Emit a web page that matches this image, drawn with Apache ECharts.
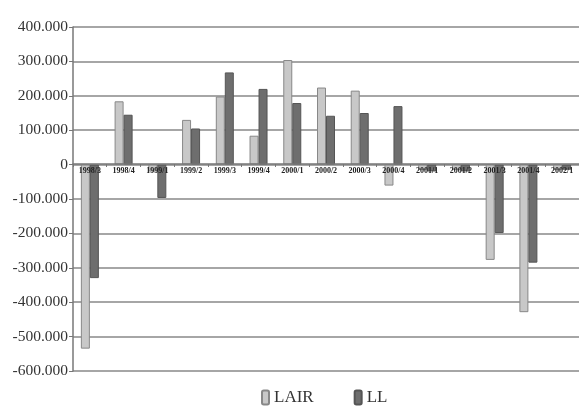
<!DOCTYPE html>
<html><head><meta charset="utf-8">
<script src="https://cdn.jsdelivr.net/npm/echarts@6/dist/echarts.min.js"></script>
<style>html,body{margin:0;padding:0;background:#fff}#c{width:579px;height:413px}</style>
</head><body><div id="c"></div>
<script>
const categories = ['1998/3','1998/4','1999/1','1999/2','1999/3','1999/4','2000/1','2000/2','2000/3','2000/4','2001/1','2001/2','2001/3','2001/4','2002/1'];
const lair = [-535000,184000,-20000,130000,198000,84000,304000,224000,215000,-61000,-15000,-15000,-277000,-429000,-15000];
const ll = [-330000,145000,-97000,105000,268000,220000,179000,142000,150000,170000,-20000,-20000,-199000,-285000,-15000];

function fmt(v){
  const s = Math.abs(v).toString().replace(/\B(?=(\d{3})+(?!\d))/g,'.');
  return (v<0?'-':'')+s;
}
const chart = echarts.init(document.getElementById('c'));
chart.setOption({
  animation:false,
  backgroundColor:'#fff',
  grid:{left:73,top:27,right:-14,bottom:42,containLabel:false},
  legend:{
    data:['LAIR','LL'], bottom:2, left:256, itemWidth:7, itemHeight:14, itemGap:40,
    textStyle:{fontFamily:'Liberation Serif',fontSize:17,color:'#333'}
  },
  xAxis:{
    type:'category', data:categories, offset:-207,
    axisLine:{onZero:false,lineStyle:{color:'#777',width:1.5}},
    axisTick:{show:true,length:3,inside:false,lineStyle:{color:'#777'}},
    axisLabel:{interval:0,fontFamily:'Liberation Serif',fontSize:8,fontWeight:'bold',color:'#222',margin:3},
    z:10
  },
  yAxis:{
    type:'value', min:-600000, max:400000, interval:100000,
    axisLine:{show:true,lineStyle:{color:'#777',width:1.5}},
    axisTick:{show:true,length:4,lineStyle:{color:'#777'}},
    splitLine:{lineStyle:{color:'#888',width:1.5}},
    axisLabel:{formatter:fmt,fontFamily:'Liberation Serif',fontSize:15.5,color:'#333',margin:5}
  },
  series:[
    {name:'LAIR',type:'bar',data:lair,barWidth:9,barGap:'0%',
     itemStyle:{color:'#c8c8c8',borderColor:'#888',borderWidth:1}},
    {name:'LL',type:'bar',data:ll,barWidth:9,
     itemStyle:{color:'#6e6e6e',borderColor:'#555',borderWidth:1}}
  ]
});
</script></body></html>
